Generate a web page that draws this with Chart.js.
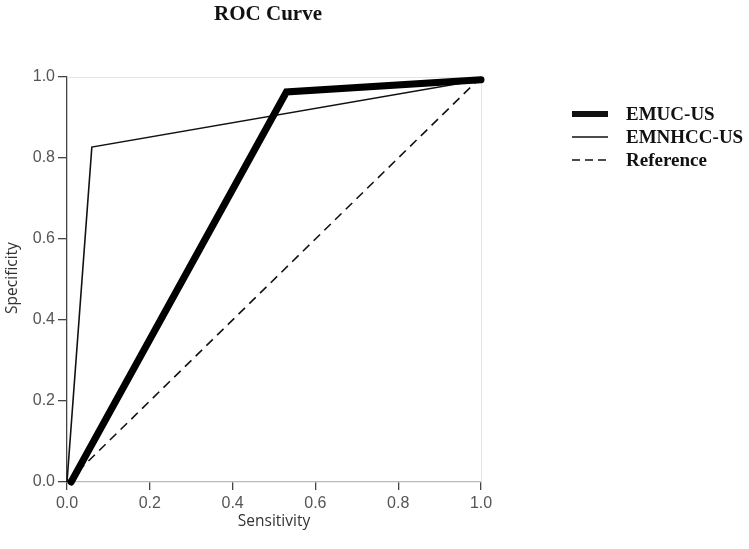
<!DOCTYPE html>
<html>
<head>
<meta charset="utf-8">
<script src="https://cdn.jsdelivr.net/npm/chart.js@4"></script>
<style>
  body { margin: 0; background: #fff; }
  #wrap { width: 749px; height: 549px; }
</style>
</head>
<body>
<div id="wrap"><canvas id="roc" width="749" height="549"></canvas></div>
<script>
// ROC points (x = sensitivity, y = specificity)
const emucX = [0.01, 0.53, 1.0];
const emucY = [0.0, 0.963, 0.993];
const emnhccX = [0.0, 0.06, 1.0];
const emnhccY = [0.0, 0.827, 0.993];
const refX = [0.0, 1.0];
const refY = [0.0, 1.0];
const tickVals = [0, 0.2, 0.4, 0.6, 0.8, 1.0];
const seriesNames = ['EMUC-US', 'EMNHCC-US', 'Reference'];

function pts(xs, ys) {
    return xs.map((x, i) => ({ x: x, y: ys[i] }));
}

// top/right faint frame, title, axis titles, legend
const decor = {
    id: 'decor',
    beforeDatasetsDraw(chart) {
        const c = chart.ctx, a = chart.chartArea;
        c.save();
        c.strokeStyle = '#e4e4e4';
        c.lineWidth = 1;
        c.beginPath();
        c.moveTo(a.left, a.top + 0.5);
        c.lineTo(a.right + 0.5, a.top + 0.5);
        c.lineTo(a.right + 0.5, a.bottom);
        c.stroke();
        c.restore();
    },
    afterDraw(chart) {
        const c = chart.ctx;
        c.save();
        c.fillStyle = '#111';
        c.textAlign = 'center';
        c.textBaseline = 'middle';
        c.font = 'bold 21px "Liberation Serif", "DejaVu Serif", serif';
        c.fillText('ROC Curve', 268, 15);

        c.fillStyle = '#333';
        c.font = '15.5px "Open Sans", "DejaVu Sans", sans-serif';
        c.fillText('Sensitivity', 274, 522);
        c.translate(13, 278);
        c.rotate(-Math.PI / 2);
        c.fillText('Specificity', 0, 0);
        c.restore();

        // legend
        c.save();
        const rows = [114, 137, 160];
        const widths = [6, 1.6, 1.6];
        c.strokeStyle = '#111';
        rows.forEach((y, i) => {
            c.lineWidth = widths[i];
            c.setLineDash(i == 2 ? [8, 5] : []);
            c.beginPath();
            c.moveTo(572, y);
            c.lineTo(608, y);
            c.stroke();
        });
        c.setLineDash([]);
        c.fillStyle = '#111';
        c.textBaseline = 'middle';
        c.font = 'bold 19px "Liberation Serif", "DejaVu Serif", serif';
        rows.forEach((y, i) => c.fillText(seriesNames[i], 626, y + 1));
        c.restore();
    }
};

var ctx = document.getElementById('roc').getContext('2d');
var myChart = new Chart(ctx, {
    type: 'scatter',
    data: {
        datasets: [{
            label: seriesNames[0],
            data: pts(emucX, emucY),
            showLine: true,
            borderColor: '#000',
            borderWidth: 7,
            borderCapStyle: 'round',
            borderJoinStyle: 'miter',
            pointRadius: 0,
            clip: false
        }, {
            label: seriesNames[1],
            data: pts(emnhccX, emnhccY),
            showLine: true,
            borderColor: '#111',
            borderWidth: 1.6,
            pointRadius: 0,
            clip: false
        }, {
            label: seriesNames[2],
            data: pts(refX, refY),
            showLine: true,
            borderColor: '#111',
            borderWidth: 1.6,
            borderDash: [9, 6],
            pointRadius: 0,
            clip: false
        }]
    },
    options: {
        responsive: false,
        animation: false,
        layout: { padding: { top: 77, right: 268, left: 0, bottom: 0 } },
        plugins: { legend: { display: false }, tooltip: { enabled: false } },
        scales: {
            x: {
                type: 'linear', min: 0, max: 1,
                afterFit(s) { s.height = 67; },
                afterBuildTicks(s) { s.ticks = tickVals.map(v => ({ value: v })); },
                grid: { drawOnChartArea: false, drawTicks: true, tickLength: 8, color: '#444', lineWidth: 1.3 },
                border: { color: '#bbb', width: 1.3 },
                ticks: {
                    color: '#555', padding: 4,
                    font: { family: '"Liberation Sans", Arial, sans-serif', size: 16 },
                    callback: v => v.toFixed(1)
                }
            },
            y: {
                type: 'linear', min: 0, max: 1,
                afterFit(s) { s.width = 67; },
                afterBuildTicks(s) { s.ticks = tickVals.map(v => ({ value: v })); },
                grid: { drawOnChartArea: false, drawTicks: true, tickLength: 9, color: '#444', lineWidth: 1.3 },
                border: { color: '#444', width: 1.3 },
                ticks: {
                    color: '#555', padding: 3,
                    font: { family: '"Liberation Sans", Arial, sans-serif', size: 16 },
                    callback: v => v.toFixed(1)
                }
            }
        }
    },
    plugins: [decor]
});
</script>
</body>
</html>
